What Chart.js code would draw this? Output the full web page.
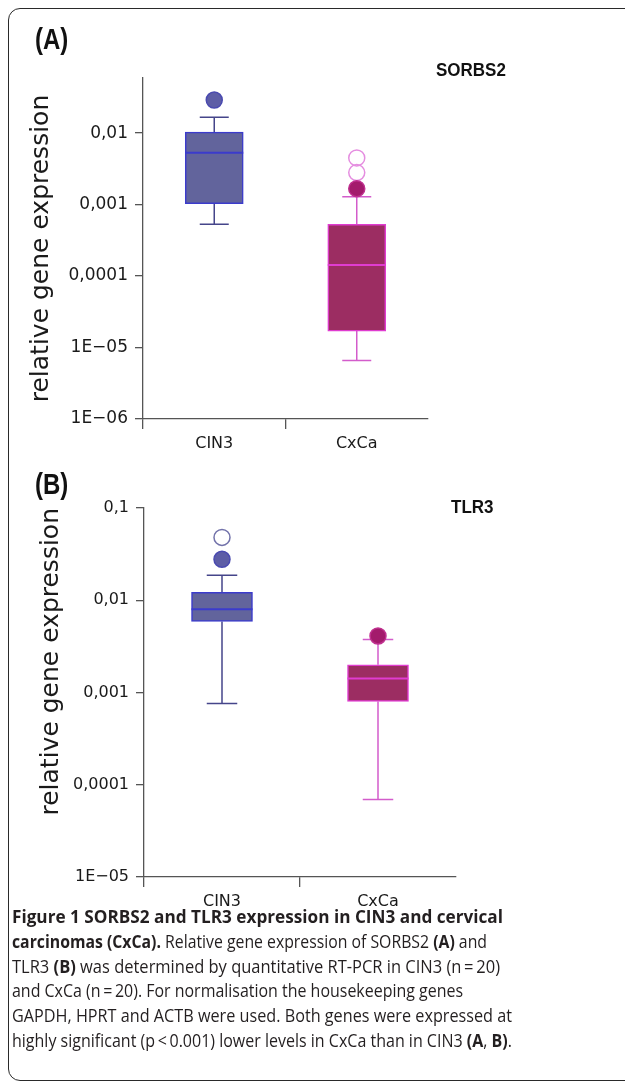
<!DOCTYPE html>
<html>
<head>
<meta charset="utf-8">
<script src="https://cdn.jsdelivr.net/npm/chart.js@4.4.1/dist/chart.umd.min.js"></script>
<style>
  html, body { margin: 0; padding: 0; background: #fff; }
  #page { position: relative; width: 625px; height: 1085px; overflow: hidden; }
  #frame { position: absolute; left: 8px; top: 8px; width: 640px; height: 1073px;
           border: 1.5px solid #2a2a2a; border-radius: 12px; box-sizing: border-box; }
  .wrap { position: absolute; left: 0; width: 625px; height: 460px; }
  .panel { position: absolute; font: bold 24px "Liberation Sans", Arial, sans-serif; color: #111;
           transform: scale(1, 1.2); transform-origin: left top; line-height: 1; }
  .gene { position: absolute; font: bold 17px "Liberation Sans", Arial, sans-serif; color: #111;
          line-height: 1; transform: scale(1, 1.1); transform-origin: left top; }
  #caption { position: absolute; left: 12px; top: 904px; font: 18px "Open Sans", sans-serif;
             color: #231f20; line-height: 24.8px; white-space: nowrap; }
  #caption span { display: inline-block; transform-origin: left center; }
  #caption b { font-weight: 700; }
</style>
</head>
<body>
<div id="page">
  <div id="frame"></div>
  <div class="wrap" style="top:0"><canvas id="chartA"></canvas></div>
  <div class="wrap" style="top:460px"><canvas id="chartB"></canvas></div>
  <div class="panel" style="left:35px; top:25px">(A)</div>
  <div class="gene" style="left:436px; top:61px">SORBS2</div>
  <div class="panel" style="left:35px; top:470px">(B)</div>
  <div class="gene" style="left:451px; top:498px">TLR3</div>
  <div id="caption">
    <div><span><b>Figure 1 SORBS2 and TLR3 expression in CIN3 and cervical</b></span></div>
    <div><span><b>carcinomas (CxCa).</b> Relative gene expression of SORBS2 <b>(A)</b> and</span></div>
    <div><span>TLR3 <b>(B)</b> was determined by quantitative RT-PCR in CIN3 (n&#8201;=&#8201;20)</span></div>
    <div><span>and CxCa (n&#8201;=&#8201;20). For normalisation the housekeeping genes</span></div>
    <div><span>GAPDH, HPRT and ACTB were used. Both genes were expressed at</span></div>
    <div><span>highly significant (p&#8201;&lt;&#8201;0.001) lower levels in CxCa than in CIN3 <b>(A</b>, <b>B)</b>.</span></div>
  </div>
</div>
<script>
const categories = ['CIN3', 'CxCa'];

// SORBS2 (A) - box plot parts
const sorbs2Min = [0.00053, 0.0000066];
const sorbs2Q1 = [0.00103, 0.000017];
const sorbs2Median = [0.0053, 0.000143];
const sorbs2Q3 = [0.0103, 0.00053];
const sorbs2Max = [0.0167, 0.00129];
const sorbs2Filled = [[0.029], [0.00167]];
const sorbs2Open = [[], [0.0028, 0.0045]];
const sorbs2Ticks = [1e-6, 1e-5, 1e-4, 1e-3, 1e-2];
const sorbs2TickLabels = ['1E\u221206', '1E\u221205', '0,0001', '0,001', '0,01'];

// TLR3 (B)
const tlr3Min = [0.00076, 0.000069];
const tlr3Q1 = [0.0059, 0.0008];
const tlr3Median = [0.008, 0.00142];
const tlr3Q3 = [0.0122, 0.002];
const tlr3Max = [0.0187, 0.00375];
const tlr3Filled = [[0.0278], [0.0041]];
const tlr3Open = [[0.048], []];
const tlr3Ticks = [1e-5, 1e-4, 1e-3, 1e-2, 1e-1];
const tlr3TickLabels = ['1E\u221205', '0,0001', '0,001', '0,01', '0,1'];

const boxFill = ['#62649c', '#9c2d62'];
const boxEdge = ['#3b3bcc', '#e03cd0'];
const whiskerColor = ['#45458a', '#d35ccb'];
const dotFill = ['#5d5da6', '#a31b6c'];
const dotEdge = ['#4a4ab0', '#c0308f'];
const openEdge = ['#7272aa', '#e58ee0'];

const axisFont = 'DejaVu Sans';

// whiskers under the boxes, medians on top
const boxParts = {
  id: 'boxParts',
  beforeDatasetsDraw(chart, args, opts) {
    const ctx = chart.ctx, y = chart.scales.y;
    chart.getDatasetMeta(0).data.forEach((bar, i) => {
      const half = bar.width / 4;
      const pMin = y.getPixelForValue(opts.min[i]), pMax = y.getPixelForValue(opts.max[i]);
      const pQ1 = y.getPixelForValue(opts.q1[i]), pQ3 = y.getPixelForValue(opts.q3[i]);
      ctx.save();
      ctx.strokeStyle = whiskerColor[i];
      ctx.lineWidth = 1.5;
      ctx.beginPath();
      ctx.moveTo(bar.x, pMin); ctx.lineTo(bar.x, pQ1);
      ctx.moveTo(bar.x, pQ3); ctx.lineTo(bar.x, pMax);
      ctx.moveTo(bar.x - half, pMin); ctx.lineTo(bar.x + half, pMin);
      ctx.moveTo(bar.x - half, pMax); ctx.lineTo(bar.x + half, pMax);
      ctx.stroke();
      ctx.restore();
    });
  },
  afterDatasetsDraw(chart, args, opts) {
    const ctx = chart.ctx, y = chart.scales.y;
    chart.getDatasetMeta(0).data.forEach((bar, i) => {
      const py = y.getPixelForValue(opts.median[i]);
      ctx.save();
      ctx.strokeStyle = boxEdge[i];
      ctx.lineWidth = 2;
      ctx.beginPath();
      ctx.moveTo(bar.x - bar.width / 2, py);
      ctx.lineTo(bar.x + bar.width / 2, py);
      ctx.stroke();
      ctx.restore();
    });
  }
};

function outlierSets(filled, open) {
  let sets = [];
  categories.forEach((c, i) => {
    sets.push({
      type: 'line', showLine: false, order: 1,
      data: filled[i].map(v => ({x: c, y: v})),
      pointRadius: 8, pointBackgroundColor: dotFill[i], pointBorderColor: dotEdge[i], pointBorderWidth: 1.5
    });
    sets.push({
      type: 'line', showLine: false, order: 1,
      data: open[i].map(v => ({x: c, y: v})),
      pointRadius: 8, pointBackgroundColor: 'rgba(255,255,255,0)', pointBorderColor: openEdge[i], pointBorderWidth: 1.5
    });
  });
  return sets;
}

function makeChart(id, p) {
  return new Chart(document.getElementById(id), {
    type: 'bar',
    data: {
      labels: categories,
      datasets: [{
        order: 2,
        data: categories.map((c, i) => [p.q1[i], p.q3[i]]),
        backgroundColor: boxFill,
        borderColor: boxEdge,
        borderWidth: 1.5,
        borderSkipped: false,
        barThickness: p.barWidth
      }].concat(outlierSets(p.filled, p.open))
    },
    options: {
      responsive: true,
      maintainAspectRatio: false,
      animation: false,
      layout: { padding: p.padding },
      plugins: {
        legend: { display: false },
        tooltip: { enabled: false },
        boxParts: { min: p.min, q1: p.q1, median: p.median, q3: p.q3, max: p.max }
      },
      scales: {
        x: {
          type: 'category',
          offset: true,
          grid: {
            offset: true, drawOnChartArea: false, tickLength: 10, lineWidth: 1.3,
            color: ctx => ctx.index === undefined ? 'rgba(0,0,0,0)' : '#555'
          },
          border: { color: '#555', width: 1.3 },
          ticks: { font: { family: axisFont, size: 16 }, color: '#1a1a1a', padding: 5 },
          afterFit: s => { s.height = p.xHeight; }
        },
        y: {
          type: 'logarithmic',
          min: p.yMin,
          max: p.yMax,
          afterBuildTicks: s => { s.ticks = p.ticks.map(v => ({ value: v })); },
          ticks: {
            font: { family: axisFont, size: p.tickSize },
            color: '#1a1a1a',
            padding: 7,
            callback: (v, i) => p.tickLabels[i]
          },
          grid: { drawOnChartArea: false, tickLength: 8, color: '#555', lineWidth: 1.3 },
          border: { color: '#555', width: 1.3 },
          title: {
            display: true, text: 'relative gene expression', color: '#1a1a1a',
            font: { family: axisFont, size: 25 }, align: p.titleAlign,
            padding: { top: p.titlePad, bottom: 0 }
          },
          afterFit: s => { s.width = p.yWidth; }
        }
      }
    },
    plugins: [boxParts]
  });
}

makeChart('chartA', {
  q1: sorbs2Q1, q3: sorbs2Q3, min: sorbs2Min, max: sorbs2Max, median: sorbs2Median,
  filled: sorbs2Filled, open: sorbs2Open, ticks: sorbs2Ticks, tickLabels: sorbs2TickLabels,
  yMin: 1e-6, yMax: 0.059, barWidth: 58, tickSize: 17,
  padding: { top: 78, right: 197, bottom: 0, left: 0 },
  xHeight: 41, yWidth: 143, titlePad: 26, titleAlign: 'center'
});

makeChart('chartB', {
  q1: tlr3Q1, q3: tlr3Q3, min: tlr3Min, max: tlr3Max, median: tlr3Median,
  filled: tlr3Filled, open: tlr3Open, ticks: tlr3Ticks, tickLabels: tlr3TickLabels,
  yMin: 1e-5, yMax: 0.1, barWidth: 61, tickSize: 16,
  padding: { top: 48, right: 169, bottom: 0, left: 0 },
  xHeight: 43, yWidth: 144, titlePad: 36, titleAlign: 'end'
});

// fit each caption line to the width it has in the figure
const lineWidths = [491, 475, 488, 451, 500, 500];
document.querySelectorAll('#caption span').forEach((s, i) => {
  s.style.transform = 'scaleX(' + (lineWidths[i] / s.getBoundingClientRect().width) + ')';
});
</script>
</body>
</html>
